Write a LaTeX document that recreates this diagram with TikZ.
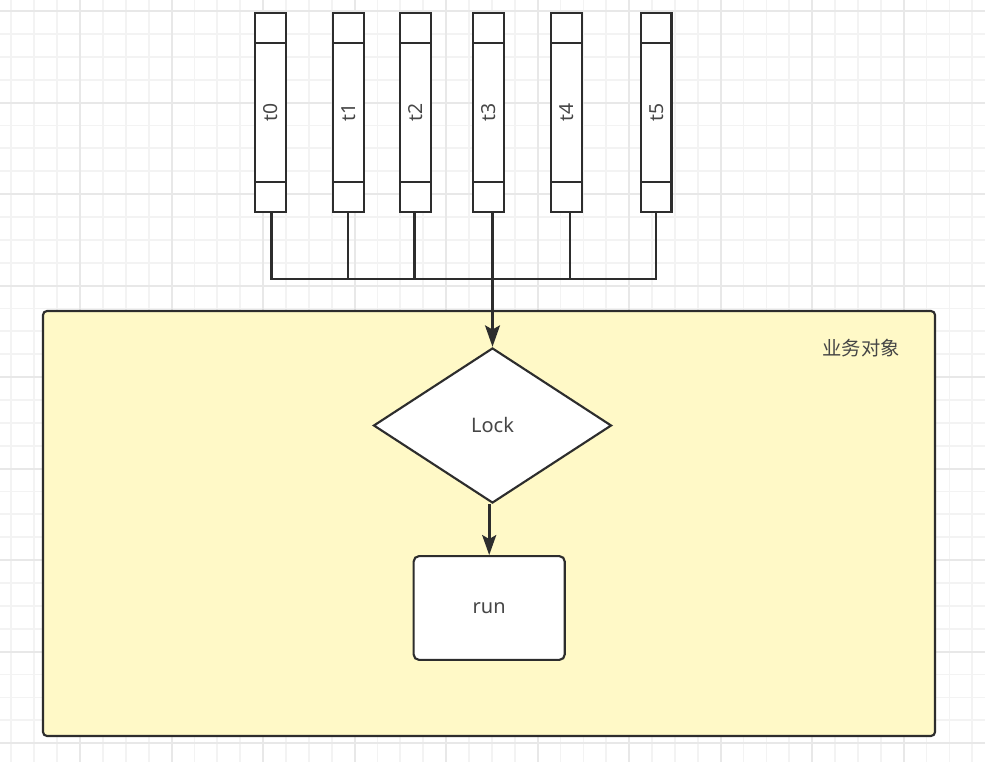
\documentclass[tikz,border=0pt]{standalone}
\usepackage{fontspec}
\setmainfont{Noto Sans}
\newfontfamily\cjk{Noto Sans CJK SC}
\usetikzlibrary{shapes.geometric,arrows.meta}
\definecolor{gridminor}{RGB}{243,243,243}
\definecolor{gridmajor}{RGB}{232,232,232}
\definecolor{ink}{RGB}{45,45,45}
\definecolor{txt}{RGB}{70,70,70}
\definecolor{pale}{RGB}{255,249,199}
\tikzset{
  lanelabel/.style={rotate=90, text=txt, font=\fontsize{14.5}{16}\selectfont, inner sep=0pt},
  lane/.style={draw=ink, line width=1.6pt, fill=white, inner sep=0pt,
    minimum width=23pt, minimum height=149.6pt,
    path picture={
      \draw[draw=ink, line width=1.6pt]
        ([yshift=-22.7pt]path picture bounding box.north west) -- ([yshift=-22.7pt]path picture bounding box.north east)
        ([yshift=22.7pt]path picture bounding box.south west) -- ([yshift=22.7pt]path picture bounding box.south east);
    },
    label={[lanelabel]center:#1}},
  conn/.style={draw=ink, line width=1.6pt},
  bigarrow/.style={draw=ink, line width=2.6pt, -{Stealth[length=16pt, width=11pt, inset=3pt]}},
  arrow/.style={draw=ink, line width=2.1pt, -{Stealth[length=15pt, width=10.5pt, inset=3pt]}},
  decision/.style={diamond, draw=ink, line width=1.6pt, fill=white, aspect=1.535, inner sep=0pt,
    minimum width=178.5pt, minimum height=116.3pt, text=txt, font=\fontsize{15}{18}\selectfont},
  process/.style={rectangle, rounded corners=4pt, draw=ink, line width=1.6pt, fill=white, inner sep=0pt,
    minimum width=113.3pt, minimum height=77.8pt, text=txt, font=\fontsize{15}{18}\selectfont},
  container/.style={draw=ink, line width=1.6pt, fill=pale, rounded corners=3pt},
  caption/.style={text=txt, font=\cjk\fontsize{14.5}{17}\selectfont, inner sep=0pt},
  gridmin/.style={draw=gridminor, line width=1.3pt},
  gridmaj/.style={draw=gridmajor, line width=1.5pt}
}
\begin{document}
\begin{tikzpicture}[x=0.75pt, y=-0.75pt]
\useasboundingbox (0,0) rectangle (985,762);
\fill[white] (0,0) rectangle (985,762);
% grid
\foreach \k in {-3,...,39} {
  \pgfmathsetmacro\xx{80+22.88*\k}
  \draw[gridmin] (\xx,0) -- (\xx,762);
}
\foreach \k in {0,...,32} {
  \pgfmathsetmacro\yy{11+22.88*\k}
  \draw[gridmin] (0,\yy) -- (985,\yy);
}
\foreach \k in {0,4,...,36} {
  \pgfmathsetmacro\xx{80+22.88*\k}
  \draw[gridmaj] (\xx,0) -- (\xx,762);
}
\foreach \k in {0,4,...,32} {
  \pgfmathsetmacro\yy{11+22.88*\k}
  \draw[gridmaj] (0,\yy) -- (985,\yy);
}
% container
\path[container] (43,311) rectangle (935,736);
\node[caption] (cap) at (861,348) {业务对象};
% lanes
\node[lane=t0] (t0) at (270.3,112.5) {};
\node[lane=t1] (t1) at (348.3,112.5) {};
\node[lane=t2] (t2) at (415.7,112.5) {};
\node[lane=t3] (t3) at (488.5,112.5) {};
\node[lane=t4] (t4) at (566.3,112.5) {};
\node[lane=t5] (t5) at (656.2,112.5) {};
% flow nodes
\node[decision] (Lock) at (492.5,425.5) {Lock};
\node[process] (run) at (489.2,608) {run};
% connectors
\coordinate (j) at (492.5,279);
\draw[conn] ([xshift=0.9pt]t0.south) |- (j);
\draw[conn] (t1.south) |- (j);
\draw[conn] ([xshift=-0.9pt]t2.south) |- (j);
\draw[conn] ([xshift=3pt]t3.south) -- (j);
\draw[conn] ([xshift=3pt]t4.south) |- (j);
\draw[conn] (t5.south) |- (j);
\draw[bigarrow] (j) -- (Lock.north);
\draw[arrow] (Lock.south -| run.north) -- (run.north);
\end{tikzpicture}
\end{document}
